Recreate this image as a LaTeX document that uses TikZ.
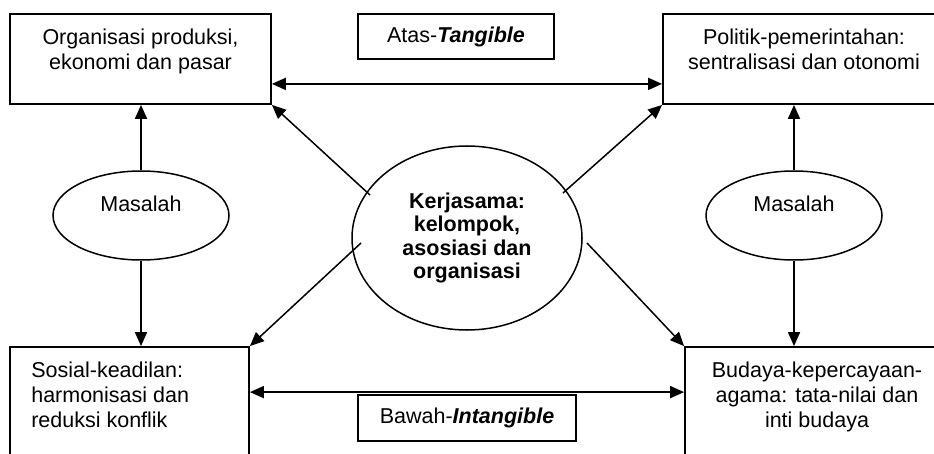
\documentclass[tikz,border=0pt]{standalone}
\usepackage{fontspec}
\setmainfont{Liberation Sans}
\usetikzlibrary{positioning, shapes.geometric, arrows.meta}

\begin{document}
\begin{tikzpicture}[x=1pt, y=-1pt, font=\fontsize{21.5}{25}\selectfont]
    \tikzstyle{field} = [draw, rectangle, line width=1.8pt, inner sep=0pt];
    \tikzstyle{fieldtext} = [align=center, inner sep=0pt, anchor=base];
    \tikzstyle{tag} = [draw, rectangle, line width=1.5pt, inner sep=0pt];
    \tikzstyle{problem} = [draw, ellipse, line width=1.5pt, inner sep=0pt, minimum width=176pt, minimum height=89pt, text height=15pt, text depth=22pt];
    \tikzstyle{core} = [draw, ellipse, line width=1.5pt, inner sep=0pt, minimum width=230pt, minimum height=184pt, align=center, font=\fontsize{21.5}{23.5}\selectfont\bfseries];
    \tikzstyle{link} = [line width=1.8pt, -{Triangle[length=14pt, width=12pt]}];
    \tikzstyle{both} = [line width=1.8pt, {Triangle[length=14pt, width=12pt]}-{Triangle[length=14pt, width=12pt]}];
    \tikzstyle{spoke} = [line width=1.5pt, -{Triangle[length=14pt, width=12pt]}];

    \useasboundingbox (0,0) rectangle (934,454);
    \clip (0,0) rectangle (934,454);

    % four fields, right and bottom ones run off the page
    \node[field, minimum width=261pt, minimum height=90pt] (org) at (140.5, 59) {};
    \node[field, minimum width=282pt, minimum height=90pt] (pol) at (804, 59) {};
    \node[field, minimum width=239pt, minimum height=124pt] (soc) at (129.5, 409) {};
    \node[field, minimum width=264pt, minimum height=124pt] (bud) at (817, 409) {};

    % base anchor sits on the last line
    \node[fieldtext] (orgT) at ([yshift=-56pt]org.north) {Organisasi produksi,\\ekonomi dan pasar};
    \node[fieldtext] (polT) at ([yshift=-56pt]pol.north) {Politik-pemerintahan:\\sentralisasi dan otonomi};
    \node[fieldtext, align=left, anchor=base west] (socT) at ([xshift=22pt, yshift=-81pt]soc.north west) {Sosial-keadilan:\\harmonisasi dan\\reduksi konflik};
    \node[fieldtext] (budT) at ([yshift=-81pt]bud.north) {Budaya-kepercayaan-\\agama: tata-nilai dan\\inti budaya};

    \node[tag, minimum width=196pt, minimum height=45pt] (atas) at (456, 36.5) {Atas-\textbf{\textit{Tangible}}};
    \node[tag, minimum width=218pt, minimum height=46pt] (bawah) at (467, 418) {Bawah-\textbf{\textit{Intangible}}};

    \node[problem] (masL) at (141, 215.5) {Masalah};
    \node[problem] (masR) at (794, 215.5) {Masalah};
    \node[core] (coop) at (467, 238) {Kerjasama:\\kelompok,\\asosiasi dan\\organisasi};

    % arrows
    \draw[both] ([yshift=21pt]org.south east) -- ([yshift=21pt]pol.south west);
    \draw[both] ([yshift=-46pt]soc.north east) -- ([yshift=-46pt]bud.north west);

    \draw[link] (masL.north) -- (masL.north |- org.south);
    \draw[link] (masL.south) -- (masL.south |- soc.north);
    \draw[link] (masR.north) -- (masR.north |- pol.south);
    \draw[link] (masR.south) -- (masR.south |- bud.north);

    \coordinate (cTL) at (370, 195);
    \coordinate (cTR) at (563, 193);
    \coordinate (cBL) at (361, 243);
    \coordinate (cBR) at (587, 243);
    \draw[spoke] (cTL) -- (org.south east);
    \draw[spoke] (cTR) -- (pol.south west);
    \draw[spoke] (cBL) -- (soc.north east);
    \draw[spoke] (cBR) -- (bud.north west);
\end{tikzpicture}
\end{document}
